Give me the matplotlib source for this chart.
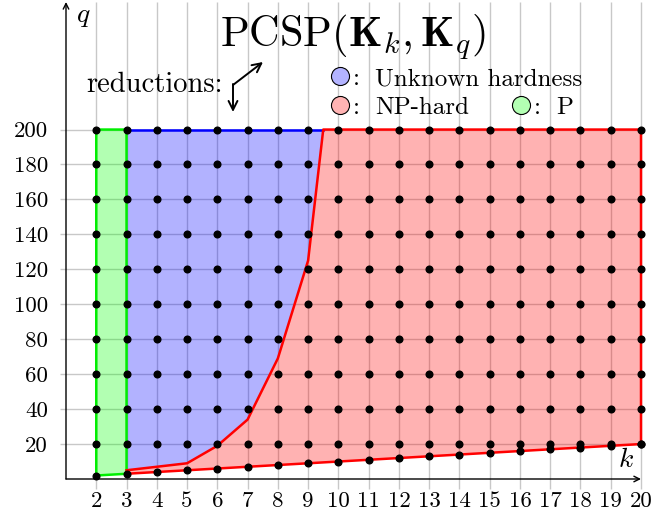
import matplotlib
matplotlib.use('Agg')
import matplotlib.pyplot as plt
from matplotlib.patches import FancyArrowPatch

plt.rcParams['font.family'] = 'serif'
plt.rcParams['font.serif'] = ['cmr10']
plt.rcParams['mathtext.fontset'] = 'cm'
plt.rcParams['axes.unicode_minus'] = False

# ---- data ----
k_values = list(range(2, 21))
q_grid = list(range(20, 201, 20))
hard_k = [3, 4, 5, 6, 7, 8, 9, 9.5]
hard_q = [5, 7, 9, 19, 34, 69, 125, 200]
p_k = [2, 2, 3, 3]
p_q = [2, 200, 200, 3]
q_top = 200
k_max = 20
y_ticks = list(range(20, 201, 20))

W, H = 654, 523
fig = plt.figure(figsize=(W / 100, H / 100), dpi=100)
ax = fig.add_axes([66 / W, 1 - 479 / H, (641 - 66) / W, (479 - 2) / H])
ax.set_xlim(1, 20)
ax.set_ylim(0, 273)
for s in ax.spines.values():
    s.set_visible(False)

grid_c = '#c8c8c8'
ax.vlines(k_values, -6, 273, colors=grid_c, lw=1, zorder=0, clip_on=False)
ax.hlines(q_grid, 0.8, k_max, colors=grid_c, lw=1, zorder=0, clip_on=False)

# regions
ax.fill(p_k, p_q, facecolor=(0, 1, 0, 0.3), edgecolor='none', zorder=1)
bx = [3] + hard_k[::-1]
by = [q_top] + hard_q[::-1]
ax.fill(bx, by, facecolor=(0, 0, 1, 0.3), edgecolor='none', zorder=1)
rx = hard_k + [k_max, k_max, 3]
ry = hard_q + [q_top, k_max, 3]
ax.fill(rx, ry, facecolor=(1, 0, 0, 0.3), edgecolor='none', zorder=1)

# borders
ax.plot([3, hard_k[-1]], [q_top, q_top], color='blue', lw=1.8, zorder=2, clip_on=False)
ax.plot(p_k + [2], p_q + [2], color='#00ee00', lw=1.8, zorder=2, clip_on=False)
ax.plot(rx, ry, color='red', lw=1.8, zorder=2, clip_on=False)

# dots
for k in k_values:
    ax.plot([k] * (len(q_grid) + 1), [k] + q_grid, 'o', color='k', ms=4.8,
            zorder=3, clip_on=False)

ax.set_xticks(k_values)
ax.set_yticks(y_ticks)
ax.tick_params(axis='x', length=0, pad=9, labelsize=16.5)
ax.tick_params(axis='y', length=0, pad=13, labelsize=16.5)

# axes arrows
ax.annotate('', xy=(k_max, 0), xytext=(1, 0),
            arrowprops=dict(arrowstyle='->', lw=1, color='k', shrinkA=0, shrinkB=0),
            annotation_clip=False)
ax.annotate('', xy=(1, 273), xytext=(1, 0),
            arrowprops=dict(arrowstyle='->', lw=1, color='k', shrinkA=0, shrinkB=0),
            annotation_clip=False)

def fx(px):
    return px / W

def fy(py):
    return 1 - py / H

fig.text(fx(626), fy(467), r'$k$', fontsize=20, ha='center', va='baseline')
fig.text(fx(83), fy(22), r'$q$', fontsize=20, ha='center', va='baseline')

fig.text(fx(353), fy(47), r'$\mathrm{PCSP}(\mathbf{K}_k,\mathbf{K}_q)$',
         fontsize=30.5, ha='center', va='baseline')
fig.text(fx(86), fy(92), 'reductions:', fontsize=20.5, ha='left', va='baseline')

for a, b in [((233, 84), (233, 112)), ((233, 85), (263, 62))]:
    fig.add_artist(FancyArrowPatch((fx(a[0]), fy(a[1])), (fx(b[0]), fy(b[1])),
                                   transform=fig.transFigure, arrowstyle='->',
                                   mutation_scale=16, lw=1.4, color='k',
                                   shrinkA=0, shrinkB=0))

legend_items = [
    ((340, 76), (0.7, 0.7, 1.0), 'Unknown hardness'),
    ((340, 105), (1.0, 0.7, 0.7), 'NP-hard'),
    ((521, 105), (0.7, 1.0, 0.7), 'P'),
]
for (px, py), col, lab in legend_items:
    ax.plot([fx(px)], [fy(py)], 'o', ms=13, mfc=col, mec='k', mew=0.8,
            transform=fig.transFigure, clip_on=False, zorder=5)
    fig.text(fx(px + 13), fy(py + 9), ':', fontsize=18, ha='left', va='baseline')
    fig.text(fx(px + 35), fy(py + 9), lab, fontsize=18, ha='left', va='baseline')

fig.savefig('out.png', dpi=100)
